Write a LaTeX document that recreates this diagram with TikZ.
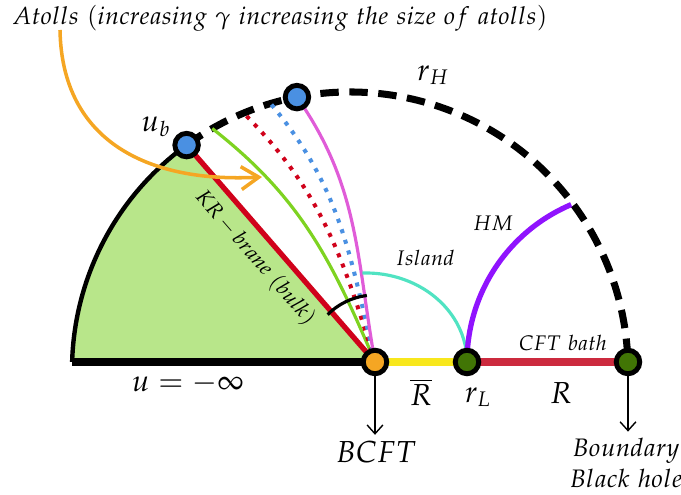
\documentclass[tikz,border=0pt]{standalone}
\usepackage{amsmath,amssymb}
\usepackage{mathpazo}
\usepackage{tikz}
\usetikzlibrary{positioning,arrows.meta,calc}
\usepackage{xcolor}
\definecolor{kbrane}{HTML}{D0021B}
\definecolor{bathred}{HTML}{CC2A3E}
\definecolor{bulkgreen}{HTML}{B8E68A}
\definecolor{dotblue}{HTML}{4A90E2}
\definecolor{dotorange}{HTML}{F5A623}
\definecolor{dotgreen}{HTML}{417505}
\definecolor{baryellow}{HTML}{F8E71C}
\definecolor{atollgreen}{HTML}{7ED321}
\definecolor{atollpink}{HTML}{E05CD8}
\definecolor{islandcyan}{HTML}{50E3C2}
\definecolor{hmpurple}{HTML}{9013FE}

\begin{document}
\begin{tikzpicture}[
    dot/.style={circle, draw=black, line width=2.8pt, minimum size=0.47cm, inner sep=0pt},
    geod/.style={line width=1.8pt},
    atolldots/.style={line width=2.3pt, dash pattern=on 2.3pt off 4pt},
    lbl/.style={font=\large},
    biglbl/.style={font=\LARGE},
    downarrow/.style={-{Straight Barb[length=5pt,width=9pt]}, line width=0.8pt}
]
    \useasboundingbox (0,0) rectangle (13.62,9.9);

    \coordinate (C) at (7.0,2.5);
    \coordinate (O) at (7.5,2.66);
    \coordinate (rL) at (9.34,2.66);
    \coordinate (bh) at (12.56,2.66);
    \coordinate (left) at ($(C)+(178.35:5.56)$);
    \coordinate (ub) at ($(C)+(126:5.56)$);
    \coordinate (top) at ($(C)+(101:5.56)$);
    \coordinate (a1) at ($(C)+(119.7:5.56)$);
    \coordinate (a2) at ($(C)+(112.5:5.56)$);
    \coordinate (a3) at ($(C)+(106.6:5.56)$);

    % bulk region and horizon
    \fill[bulkgreen] (left) arc[start angle=178.35, end angle=126, radius=5.56] -- (O) -- cycle;
    \draw[line width=2.5pt] (left) arc[start angle=178.35, end angle=126, radius=5.56];
    \draw[line width=4pt] (left) -- (O);
    \draw[line width=4pt, dash pattern=on 10.5pt off 6pt] (ub) arc[start angle=126, end angle=1.65, radius=5.56];

    % atolls
    \draw[geod, atollgreen] (O) to[out=113, in=-38] (a1);
    \draw[atolldots, kbrane] (O) to[out=107, in=-45] (a2);
    \draw[atolldots, dotblue] (O) to[out=103, in=-50] (a3);
    \draw[geod, atollpink] (O) to[out=100, in=-55] (top);

    \draw[line width=3pt, kbrane] (ub) -- (O);
    \draw[line width=1.8pt] ([shift={(135:1.34)}]O) arc[start angle=135, end angle=97, radius=1.34];

    \draw[geod, islandcyan] (rL) arc[start angle=0, end angle=92, x radius=2.02, y radius=1.78];
    \draw[line width=3pt, hmpurple] (rL) arc[start angle=180, end angle=113, radius=3.42];

    \draw[line width=4pt, baryellow] (O) -- (rL);
    \draw[line width=4pt, bathred] (rL) -- (bh);

    % points
    \node[dot, fill=dotblue] (ubdot) at (ub) {};
    \node[dot, fill=dotblue] (topdot) at (top) {};
    \node[dot, fill=dotorange] (bcftdot) at (O) {};
    \node[dot, fill=dotgreen] (rLdot) at (rL) {};
    \node[dot, fill=dotgreen] (bhdot) at (bh) {};

    % labels
    \node[font=\fontsize{14}{17}\selectfont, anchor=west] (title) at (0.12,9.54) {$Atolls\ (increasing\ \gamma\ increasing\ the\ size\ of\ atolls)$};
    \node[biglbl] (rH) at (8.66,8.4) {$r_H$};
    \node[biglbl] (ublbl) at (3.12,7.36) {$u_b$};
    \node[lbl, rotate=-49] (krlbl) at (5.1,4.74) {$KR-brane\ (bulk)$};
    \node[lbl] (island) at (8.5,4.74) {$Island$};
    \node[lbl] (hm) at (9.86,5.44) {$HM$};
    \node[lbl] (bath) at (11.26,3.04) {$CFT\ bath$};
    \node[biglbl] (ulbl) at (3.76,2.22) {$u=-\infty$};
    \node[biglbl] (Rbar) at (8.42,2.06) {$\overline{R}$};
    \node[biglbl] (rLlbl) at (9.56,1.96) {$r_L$};
    \node[biglbl] (Rlbl) at (11.22,2.04) {$R$};
    \node[font=\LARGE] (bcft) at (7.52,0.86) {$BCFT$};
    \node[font=\Large, align=center] (bnd) at (12.52,0.64) {$Boundary$\\$Black\ hole$};

    \draw[downarrow] (bcftdot) -- (bcftdot |- bcft.north);
    \draw[downarrow] (bhdot) -- (bhdot |- bnd.north);

    % pointer to the atolls
    \coordinate (tail) at (1.2,9.3);
    \coordinate (head) at (5.24,6.36);
    \draw[line width=2pt, dotorange, -{Straight Barb[length=10pt,width=13pt]}] (tail) to[out=-89, in=183, looseness=1.15] (head);
\end{tikzpicture}
\end{document}
